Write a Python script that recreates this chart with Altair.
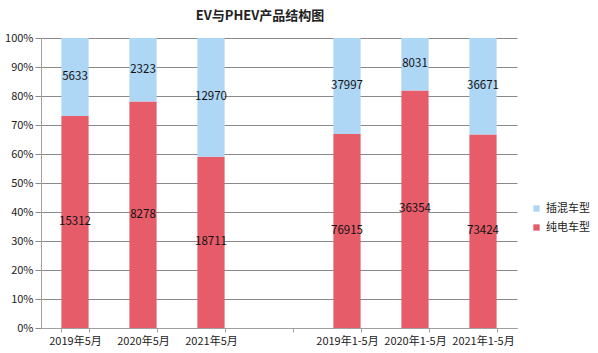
import altair as alt
import pandas as pd

categories = ["2019年5月", "2020年5月", "2021年5月", " ", "2019年1-5月", "2020年1-5月", "2021年1-5月"]
data_cats = ["2019年5月", "2020年5月", "2021年5月", "2019年1-5月", "2020年1-5月", "2021年1-5月"]
ev_values = [15312, 8278, 18711, 76915, 36354, 73424]
phev_values = [5633, 2323, 12970, 37997, 8031, 36671]
series = ["插混车型", "纯电车型"]
colors = ["#aed6f5", "#e65c69"]
y_ticks = [0, 0.1, 0.2, 0.3, 0.4, 0.5, 0.6, 0.7, 0.8, 0.9, 1.0]

rows = []
for c, ev, ph in zip(data_cats, ev_values, phev_values):
    rows.append({"cat": c, "series": "纯电车型", "value": ev, "ord": 1})
    rows.append({"cat": c, "series": "插混车型", "value": ph, "ord": 2})
df = pd.DataFrame(rows)

FONT = "Noto Sans CJK SC"

x_scale = alt.Scale(domain=categories, paddingInner=0.6, paddingOuter=0.3)
x_axis = alt.Axis(
    title=None, labelAngle=0, tickBand="extent", grid=False,
    domainColor="#a0a0a0", tickColor="#a0a0a0", tickSize=4,
    labelFontSize=11, labelColor="#222", labelFont=FONT, labelPadding=3,
    labelOverlap=False,
)
y_scale = alt.Scale(domain=[0, 1])
y_axis = alt.Axis(
    title=None, format=".0%", values=y_ticks,
    gridColor="#8a8a8a", gridWidth=1, domainColor="#a0a0a0",
    tickColor="#8a8a8a", tickSize=6, labelPadding=2,
    labelFontSize=11, labelColor="#222", labelFont=FONT,
    labelOverlap=False,
)

base = alt.Chart(df)

bars = base.mark_bar().encode(
    x=alt.X("cat:N", scale=x_scale, axis=x_axis),
    y=alt.Y("value:Q", stack="normalize", scale=y_scale, axis=y_axis),
    color=alt.Color(
        "series:N",
        scale=alt.Scale(domain=series, range=colors),
        legend=alt.Legend(
            title=None, orient="none", legendX=490, legendY=165,
            symbolType="square", symbolSize=40, symbolStrokeWidth=0,
            labelFontSize=11, labelFont=FONT, labelColor="#222", rowPadding=7,
        ),
    ),
    order=alt.Order("ord:Q"),
)

labels = base.transform_stack(
    stack="value", groupby=["cat"], as_=["v0", "v1"], offset="normalize",
    sort=[alt.SortField("ord", order="ascending")],
).transform_calculate(
    mid="(datum.v0 + datum.v1) / 2"
).mark_text(fontSize=11.5, color="#111", font=FONT).encode(
    x=alt.X("cat:N", scale=x_scale, axis=x_axis),
    y=alt.Y("mid:Q", scale=y_scale, axis=y_axis),
    text=alt.Text("value:Q", format="d"),
)

chart = alt.layer(bars, labels).properties(
    width=476, height=290,
    padding={"left": 41, "top": 38, "right": 81, "bottom": 25},
    autosize=alt.AutoSizeParams(type="none"),
    title=alt.TitleParams(
        "EV与PHEV产品结构图", font=FONT, fontSize=13, fontWeight="bold",
        color="#222", anchor="middle", dx=-19, offset=9,
    ),
).configure_view(stroke=None)

chart.save("out.html", embed_options={"renderer": "svg", "actions": False})
